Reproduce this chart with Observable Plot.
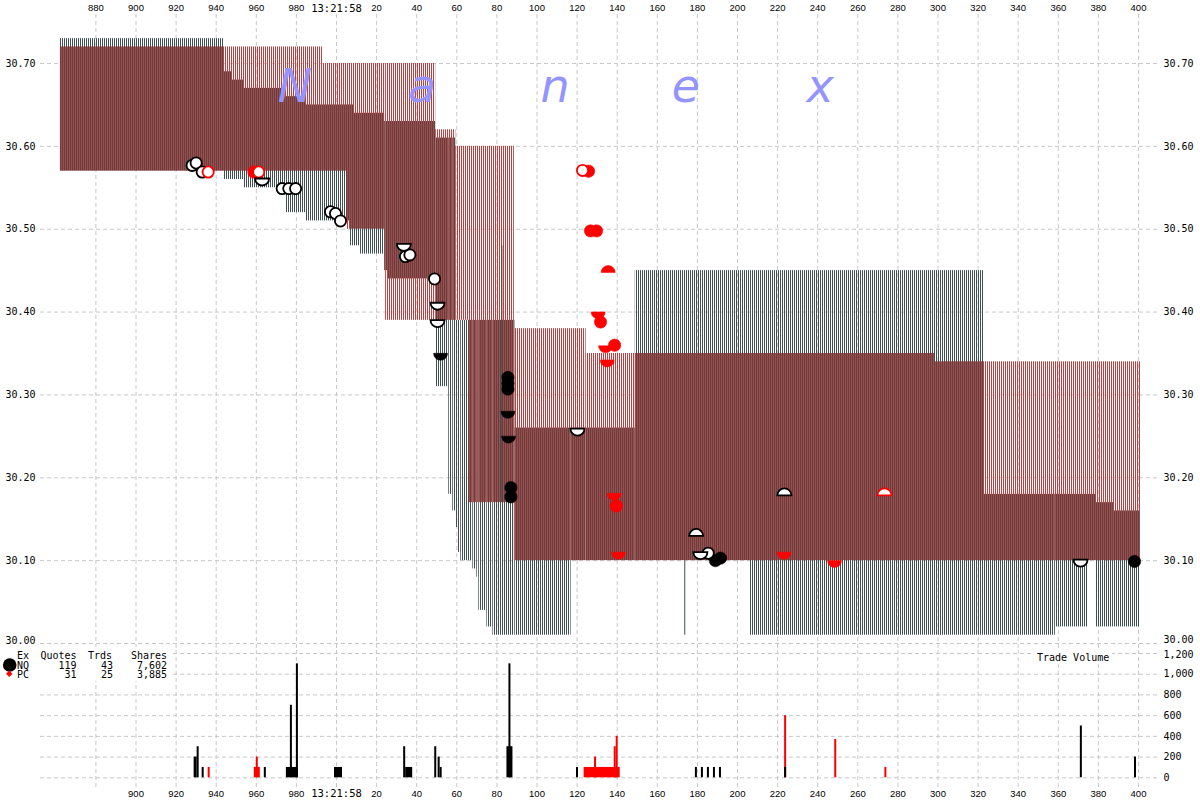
<!DOCTYPE html>
<html><head><meta charset="utf-8">
<script src="https://cdn.jsdelivr.net/npm/d3@7"></script>
<script src="https://cdn.jsdelivr.net/npm/@observablehq/plot@0.6"></script>
<style>
html,body{margin:0;padding:0;background:#fff}
#wrap{position:relative;width:1200px;height:800px;overflow:hidden}
#price,#vol,#overlay{position:absolute;left:0}
#price{top:0}
#vol{top:650px}
#overlay{top:0;pointer-events:none}
</style>
</head><body>
<div id="wrap"><div id="price"></div><div id="vol"></div>
<svg id="overlay" width="1200" height="800"></svg></div>
<script>
// ---- NQ quotes (time in ms after 13:21:58, negative = before) ----
const nqStart = [-137.7,-56,-52,-46,-25,-15,7,8.5,12,24,25.5,49.5,56,58,59.5,60.5,62,68,70,71,75,78,89,117,149,206.5,323,358.5,375,379,387.5];
const nqEnd   = [-56,-52,-46,-25,-15,7,8.5,12,24,25.5,49.5,56,58,59.5,60.5,62,68,70,71,75,78,89,117,149,206.5,323,358.5,375,379,387.5,401];
const nqBid   = [30.57,30.56,30.56,30.55,30.52,30.51,30.48,30.48,30.47,30.45,30.44,30.31,30.18,30.16,30.14,30.11,30.10,30.09,30.08,30.04,30.02,30.01,30.01,30.10,30.10,30.01,30.01,30.02,30.10,30.02,30.02];
const nqAsk   = [30.73,30.69,30.68,30.67,30.66,30.65,30.65,30.64,30.64,30.63,30.63,30.61,30.61,30.61,30.39,30.39,30.39,30.39,30.39,30.39,30.39,30.39,30.26,30.26,30.45,30.45,30.18,30.18,30.18,30.17,30.16];
// single NQ quote lines
const spikeT  = [82.5, 173.7];
const spikeLo = [30.17, 30.01];
const spikeHi = [30.48, 30.10];
// ---- PC quotes ----
const pcStart = [-137.7,-7,5,24.5,49.5,59.5,66,88.7,124.5,298.5];
const pcEnd   = [-7,5,24.5,49.5,59.5,66,88.7,124.5,298.5,401];
const pcBid   = [30.57,30.57,30.50,30.39,30.39,30.39,30.17,30.10,30.10,30.10];
const pcAsk   = [30.72,30.70,30.70,30.70,30.62,30.60,30.60,30.38,30.35,30.34];
// ---- trades ----
const tradeT = [-72,-70,-67,-64,-41.2,-38.8,-37.1,-27.1,-23.8,-20.4,-3,-0.5,2,33.6,34.4,36.6,48.9,50.4,50.4,51.9,85.5,85.5,85.5,85.5,85.8,87,87,120.2,122.7,125.7,126.7,129.7,135.5,130.5,131.7,134.2,138.7,135,138.3,139.5,140.5,179.4,181.5,185.4,189,191.5,223.4,223.1,248.4,273.3,371.1,398];
const tradeP = [30.577,30.580,30.569,30.569,30.569,30.569,30.557,30.549,30.549,30.549,30.521,30.519,30.510,30.478,30.467,30.469,30.440,30.407,30.386,30.346,30.321,30.314,30.307,30.276,30.246,30.188,30.177,30.255,30.571,30.570,30.498,30.498,30.452,30.396,30.388,30.355,30.360,30.338,30.177,30.166,30.106,30.134,30.106,30.109,30.100,30.103,30.183,30.106,30.096,30.183,30.097,30.099];
const tradeEx = ["NQ","NQ","NQ","PC","PC","PC","NQ","NQ","NQ","NQ","NQ","NQ","NQ","NQ","NQ","NQ","NQ","NQ","NQ","NQ","NQ","NQ","NQ","NQ","NQ","NQ","NQ","NQ","PC","PC","PC","PC","PC","PC","PC","PC","PC","PC","PC","PC","PC","NQ","NQ","NQ","NQ","NQ","NQ","PC","PC","PC","NQ","NQ"];
const tradeShape = ["full","full","full","full","full","full","lower","full","full","full","full","full","full","lower","full","full","full","lower","lower","lower","full","full","full","lower","lower","full","full","lower","full","full","full","full","upper","lower","full","lower","full","lower","lower","full","lower","upper","lower","full","full","full","upper","lower","lower","upper","lower","full"];
const tradeFill = ["hollow","hollow","hollow","hollow","solid","hollow","hollow","hollow","hollow","hollow","hollow","hollow","hollow","hollow","hollow","hollow","hollow","hollow","hollow","solid","solid","solid","solid","solid","solid","solid","solid","hollow","hollow","solid","solid","solid","solid","solid","solid","solid","solid","solid","solid","solid","solid","hollow","hollow","hollow","solid","solid","hollow","solid","solid","hollow","hollow","solid"];
// ---- trade volume bars ----
const volStart  = [-64,-41,-40,123.5,128.7,138.5,139.5,223.5,248.5,273.5, -71,-69.5,-67,-36,-25,-23,-20,-1,33.5,34.5,49,50.7,51.7,85,86,119.7,179,182,185,188,191,223.5,371,398];
const volEnd    = [-63,-38,-39,141.5,129.7,139.5,140.5,224.5,249.5,274.5, -69.5,-68.5,-66,-35,-19,-22,-19,3,34.5,38,50,51.7,52.7,88,87,120.7,180,183,186,189,192,224.5,372,399];
const volShares = [100,100,200,100,200,300,400,600,370,100, 200,300,100,100,100,700,1100,100,300,100,300,200,100,300,1100,100,100,100,100,100,100,100,500,200];
const volEx     = ["PC","PC","PC","PC","PC","PC","PC","PC","PC","PC", "NQ","NQ","NQ","NQ","NQ","NQ","NQ","NQ","NQ","NQ","NQ","NQ","NQ","NQ","NQ","NQ","NQ","NQ","NQ","NQ","NQ","NQ","NQ","NQ"];
// ---- ticks / legend ----
const timeTicks = [-120,-100,-80,-60,-40,-20,0,20,40,60,80,100,120,140,160,180,200,220,240,260,280,300,320,340,360,380,400];
const priceTicks = [30.00,30.10,30.20,30.30,30.40,30.50,30.60,30.70];
const volTicks = [0,200,400,600,800,1000,1200];
const legendEx = ["NQ","PC"];
const legendQuotes = [119,31];
const legendTrades = [43,25];
const legendShares = [7602,3885];

const NQ_COL = "#3e5050", PC_COL = "#c63c3c";
const nq = nqStart.map((s,i)=>({start:s,end:nqEnd[i],bid:nqBid[i],ask:nqAsk[i]}));
const pc = pcStart.map((s,i)=>({start:s,end:pcEnd[i],bid:pcBid[i],ask:pcAsk[i]}));
const spikes = spikeT.map((t,i)=>({t,lo:spikeLo[i],hi:spikeHi[i]}));
const trades = tradeT.map((t,i)=>({t,p:tradeP[i],ex:tradeEx[i],shape:tradeShape[i],fill:tradeFill[i]}));
const vols = volStart.map((s,i)=>({start:s,end:volEnd[i],v:volShares[i],ex:volEx[i]}));

const lowerHalf = {draw(ctx,size){const r=Math.sqrt(size/Math.PI);ctx.moveTo(r,-r/2);ctx.arc(0,-r/2,r,0,Math.PI);ctx.closePath();}};
const upperHalf = {draw(ctx,size){const r=Math.sqrt(size/Math.PI);ctx.moveTo(-r,r/2);ctx.arc(0,r/2,r,Math.PI,2*Math.PI);ctx.closePath();}};

const tfmt = v => v < 0 ? String(1000 + v) : String(v);
const xScale = {domain:[-120,400], range:[95.4,1138], label:null};
const gridStyle = {stroke:"#c8c8c8", strokeOpacity:1, strokeDasharray:"4,3"};
const numTicks = timeTicks.filter(d=>d!==0);

function dotMarks(){
  const out=[];
  const combos=[["NQ","solid"],["NQ","hollow"],["PC","solid"],["PC","hollow"]];
  for (const shape of ["full","lower","upper"]) for (const [ex,fl] of combos){
    const sub = trades.filter(d=>d.ex===ex&&d.fill===fl&&d.shape===shape);
    if(!sub.length) continue;
    const col = ex==="NQ"?"#000":"#ff0000";
    const sym = shape==="full"?"circle":shape==="lower"?lowerHalf:upperHalf;
    const r = shape==="full"?(fl==="solid"?6.2:5.6):7;
    out.push(Plot.dot(sub,{x:"t",y:"p",symbol:sym,r,
      fill: fl==="solid"?col:"#fff", stroke: col, strokeWidth: fl==="solid"?0.5:1.8}));
  }
  return out;
}

const xAxisOpts = {tickSize:0,tickFormat:tfmt,fontSize:9.5,fontFamily:"Liberation Sans",fill:"#000",label:null};
const clockOpts = {tickSize:0,tickFormat:()=>"13:21:58",fontSize:10.5,fontFamily:"DejaVu Sans Mono",fill:"#000",label:null};
const yAxisOpts = {tickSize:0,tickPadding:5,tickFormat:d3.format(".2f"),fontSize:10,fontFamily:"DejaVu Sans Mono",fill:"#000",label:null};
const upperTicks = priceTicks.filter(d=>d!==30.00);
const priceSvg = Plot.plot({
  width:1200, height:650, marginTop:14, marginBottom:0, marginLeft:40, marginRight:42,
  x:xScale,
  y:{domain:[30.00,30.70], range:[643,63], label:null},
  style:{background:"transparent", overflow:"visible"},
  marks:[
    Plot.gridX(timeTicks, gridStyle),
    Plot.gridY(priceTicks, gridStyle),
    Plot.rect(nq,{x1:"start",x2:"end",y1:"bid",y2:"ask",fill:"#010101"}),
    Plot.rect(pc,{x1:"start",x2:"end",y1:"bid",y2:"ask",fill:"#020202"}),
    Plot.ruleX(spikes,{x:"t",y1:"lo",y2:"hi",stroke:NQ_COL,strokeWidth:1}),
    ...dotMarks(),
    Plot.axisX(numTicks,{anchor:"top",tickPadding:4,...xAxisOpts}),
    Plot.axisX([0],{anchor:"top",tickPadding:3,...clockOpts}),
    Plot.axisY(upperTicks,{anchor:"left",...yAxisOpts}),
    Plot.axisY(upperTicks,{anchor:"right",...yAxisOpts}),
    Plot.axisY([30.00],{anchor:"left",...yAxisOpts,dy:-3}),
    Plot.axisY([30.00],{anchor:"right",...yAxisOpts,dy:-4})
  ]
});
// stripe patterns for the quote bands
const defs = document.createElementNS("http://www.w3.org/2000/svg","defs");
defs.innerHTML = `<pattern id="nqStripe" patternUnits="userSpaceOnUse" x="0" y="0" width="2" height="4"><rect x="0" y="0" width="1" height="4" fill="${NQ_COL}"/></pattern>
<pattern id="pcStripe" patternUnits="userSpaceOnUse" x="0" y="0" width="2" height="4"><rect x="1" y="0" width="1" height="4" fill="${PC_COL}"/></pattern>`;
priceSvg.insertBefore(defs, priceSvg.firstChild);
priceSvg.querySelectorAll("[fill]").forEach(el=>{
  const f=(el.getAttribute("fill")||"").toLowerCase();
  if(f==="#010101") el.setAttribute("fill","url(#nqStripe)");
  if(f==="#020202") el.setAttribute("fill","url(#pcStripe)");
});
document.getElementById("price").appendChild(priceSvg);

const volAxisOpts = {anchor:"right",tickSize:0,tickPadding:5,tickFormat:d3.format(","),fontSize:10,fontFamily:"DejaVu Sans Mono",fill:"#000",label:null};
const volSvg = Plot.plot({
  width:1200, height:150, marginTop:0, marginBottom:13, marginLeft:40, marginRight:42,
  x:xScale,
  y:{domain:[0,1200], range:[127.3,3], label:null},
  style:{background:"transparent", overflow:"visible"},
  marks:[
    Plot.gridX(timeTicks, gridStyle),
    Plot.gridY(volTicks, gridStyle),
    Plot.rectY(vols.filter(d=>d.ex==="PC"),{x1:"start",x2:"end",y1:0,y2:"v",fill:"#ff0000"}),
    Plot.rectY(vols.filter(d=>d.ex==="NQ"),{x1:"start",x2:"end",y1:0,y2:"v",fill:"#000"}),
    Plot.axisX(numTicks.filter(d=>d!==-120),{anchor:"bottom",tickPadding:3,...xAxisOpts}),
    Plot.axisX([0],{anchor:"bottom",tickPadding:2,...clockOpts}),
    Plot.axisY(volTicks.filter(d=>d!==1200),volAxisOpts),
    Plot.axisY([1200],{...volAxisOpts,dy:1.5})
  ]
});
document.getElementById("vol").appendChild(volSvg);

// overlay: watermark, legend, panel label
const ov = d3.select("#overlay");
const wm = ["N","a","n","e","x"], wmX=[295,422,555,686,820];
ov.selectAll("text.wm").data(wm).join("text").attr("class","wm")
  .attr("x",(d,i)=>wmX[i]).attr("y",102).attr("text-anchor","middle")
  .attr("font-family","DejaVu Sans").attr("font-style","italic")
  .attr("font-size",46).attr("fill","#9494ff").text(d=>d);
ov.append("rect").attr("x",0).attr("y",647).attr("width",171).attr("height",34).attr("fill","#fff");
const mono = s => s.attr("font-family","DejaVu Sans Mono").attr("font-size",10).attr("fill","#000");
mono(ov.append("text").attr("x",17).attr("y",659).text("Ex"));
mono(ov.append("text").attr("x",40.5).attr("y",659).text("Quotes"));
mono(ov.append("text").attr("x",88).attr("y",659).text("Trds"));
mono(ov.append("text").attr("x",131).attr("y",659).text("Shares"));
ov.append("circle").attr("cx",9.7).attr("cy",665).attr("r",6.8).attr("fill","#000");
ov.append("path").attr("d","M9.3,670.5L12.5,673.7L9.3,676.9L6.1,673.7Z").attr("fill","#ff0000");
legendEx.forEach((ex,i)=>{
  const y = 668.5 + i*9.5;
  mono(ov.append("text").attr("x",17).attr("y",y).text(ex));
  mono(ov.append("text").attr("x",76.5).attr("y",y).attr("text-anchor","end").text(String(legendQuotes[i])));
  mono(ov.append("text").attr("x",113).attr("y",y).attr("text-anchor","end").text(String(legendTrades[i])));
  mono(ov.append("text").attr("x",167).attr("y",y).attr("text-anchor","end").text(d3.format(",")(legendShares[i])));
});
ov.append("rect").attr("x",1034).attr("y",649).attr("width",78).attr("height",14).attr("fill","#fff");
mono(ov.append("text").attr("x",1037).attr("y",661).text("Trade Volume"));
</script>
</body></html>
